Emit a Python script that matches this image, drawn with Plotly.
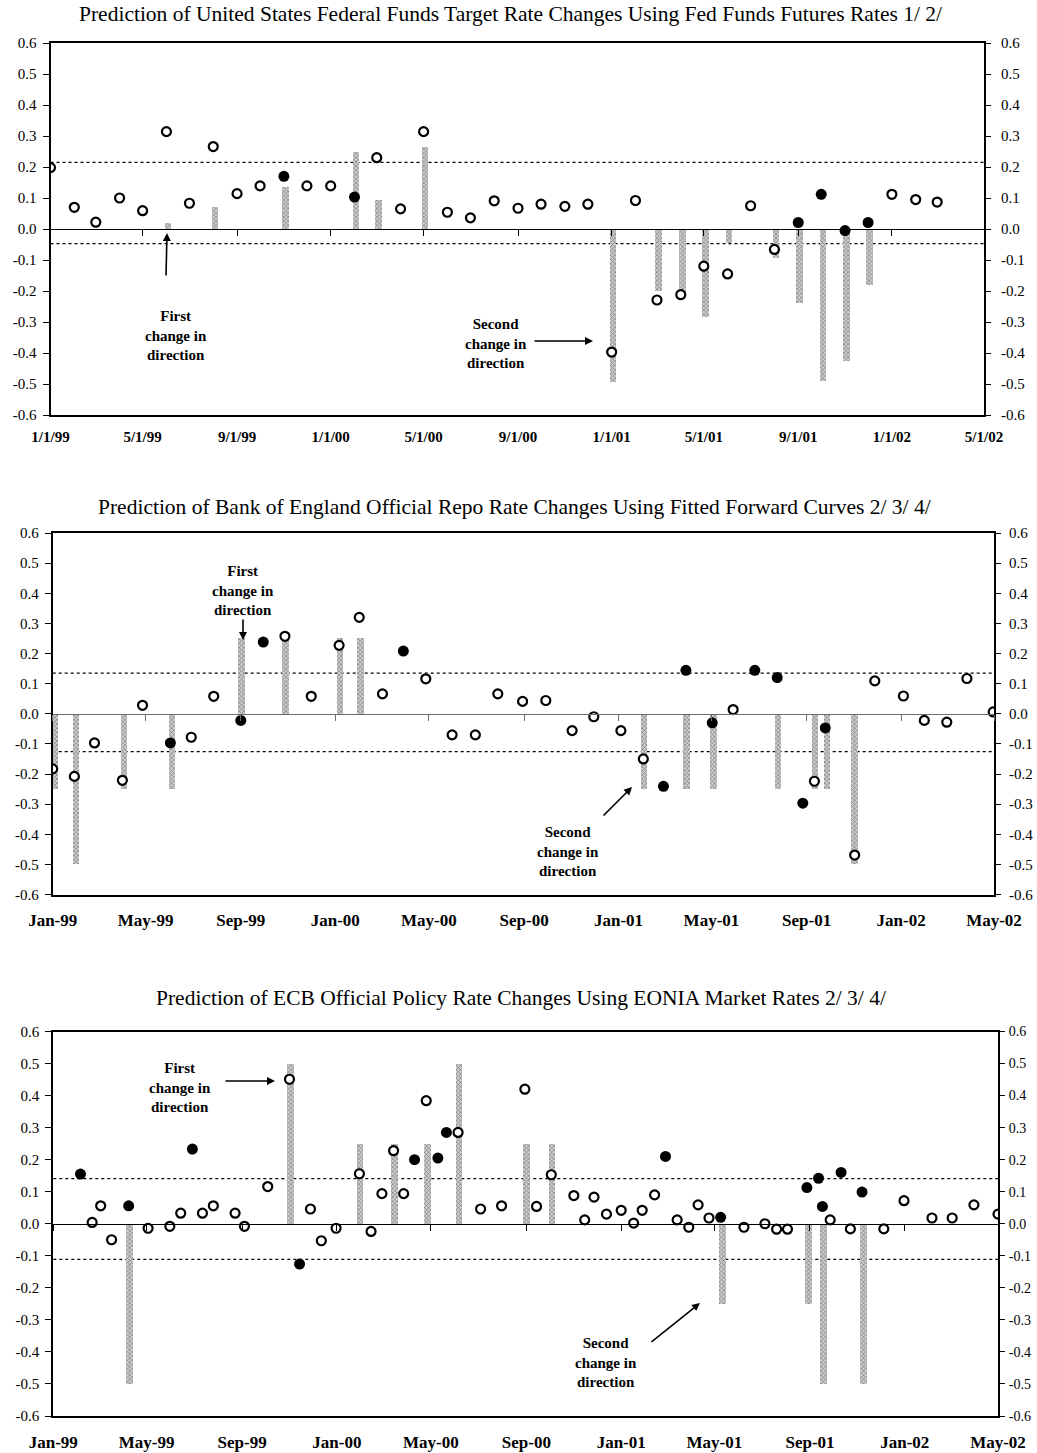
import plotly.graph_objects as go

W, H = 1037, 1453

# ---------------- data ----------------
titles = [
    "Prediction of United States Federal Funds Target Rate Changes Using Fed Funds Futures Rates 1/ 2/",
    "Prediction of Bank of England Official Repo Rate Changes Using Fitted Forward Curves 2/ 3/ 4/",
    "Prediction of ECB Official Policy Rate Changes Using EONIA Market Rates 2/ 3/ 4/",
]

us_dates = [
    "1999-01-01", "1999-02-01", "1999-03-01", "1999-04-01", "1999-05-01", "1999-06-01",
    "1999-07-01", "1999-08-01", "1999-09-01", "1999-10-01", "1999-11-01", "1999-12-01",
    "2000-01-01", "2000-02-01", "2000-03-01", "2000-04-01", "2000-05-01", "2000-06-01",
    "2000-07-01", "2000-08-01", "2000-09-01", "2000-10-01", "2000-11-01", "2000-12-01",
    "2001-01-01", "2001-02-01", "2001-03-01", "2001-04-01", "2001-05-01", "2001-06-01",
    "2001-07-01", "2001-08-01", "2001-09-01", "2001-10-01", "2001-11-01", "2001-12-01",
    "2002-01-01", "2002-02-01", "2002-03-01",
]
us_values = [
    0.198, 0.070, 0.022, 0.100, 0.059, 0.314, 0.083, 0.266, 0.114, 0.139, 0.170, 0.139,
    0.139, 0.103, 0.230, 0.065, 0.314, 0.054, 0.036, 0.091, 0.067, 0.080, 0.073, 0.080,
    -0.397, 0.092, -0.229, -0.212, -0.120, -0.145, 0.075, -0.066, 0.021, 0.112, -0.005, 0.021,
    0.112, 0.095, 0.087,
]
us_kind = [
    "o", "o", "o", "o", "o", "o", "o", "o", "o", "o", "f", "o",
    "o", "f", "o", "o", "o", "o", "o", "o", "o", "o", "o", "o",
    "o", "o", "o", "o", "o", "o", "o", "o", "f", "f", "f", "f",
    "o", "o", "o",
]
us_bar_dates = [
    "1999-06-03", "1999-08-03", "1999-11-03", "2000-02-03", "2000-03-03", "2000-05-03",
    "2001-01-03", "2001-03-03", "2001-04-03", "2001-05-03", "2001-06-03", "2001-08-03",
    "2001-09-03", "2001-10-03", "2001-11-03", "2001-12-03",
]
us_bar_values = [
    0.02, 0.07, 0.135, 0.25, 0.095, 0.265,
    -0.495, -0.20, -0.21, -0.285, -0.045, -0.095,
    -0.24, -0.49, -0.425, -0.18,
]
us_thresholds = [0.215, -0.047]

uk_dates = [
    "1999-01-01", "1999-01-29", "1999-02-24", "1999-04-01", "1999-04-27", "1999-06-02",
    "1999-06-29", "1999-07-28", "1999-09-01", "1999-09-30", "1999-10-28", "1999-12-01",
    "2000-01-06", "2000-02-01", "2000-03-02", "2000-03-29", "2000-04-27", "2000-05-31",
    "2000-06-30", "2000-07-29", "2000-08-30", "2000-09-29", "2000-11-02", "2000-11-30",
    "2001-01-04", "2001-02-02", "2001-02-28", "2001-03-29", "2001-05-02", "2001-05-29",
    "2001-06-26", "2001-07-25", "2001-08-27", "2001-09-11", "2001-09-25", "2001-11-02",
    "2001-11-28", "2002-01-04", "2002-01-31", "2002-03-01", "2002-03-27", "2002-04-30",
]
uk_values = [
    -0.183, -0.208, -0.097, -0.221, 0.028, -0.097, -0.078, 0.058, -0.022, 0.238, 0.257, 0.058,
    0.227, 0.320, 0.066, 0.208, 0.116, -0.070, -0.070, 0.066, 0.041, 0.044, -0.056, -0.010,
    -0.056, -0.150, -0.241, 0.144, -0.030, 0.014, 0.144, 0.120, -0.297, -0.224, -0.047, -0.469,
    0.109, 0.059, -0.022, -0.028, 0.117, 0.006,
]
uk_kind = [
    "o", "o", "o", "o", "o", "f", "o", "o", "f", "f", "o", "o",
    "o", "o", "o", "f", "o", "o", "o", "o", "o", "o", "o", "o",
    "o", "o", "f", "f", "f", "o", "f", "f", "f", "o", "f", "o",
    "o", "o", "o", "o", "o", "o",
]
uk_bar_dates = [
    "1999-01-03", "1999-01-31", "1999-04-03", "1999-06-04", "1999-09-02", "1999-10-29",
    "2000-01-07", "2000-02-03", "2001-02-03", "2001-03-30", "2001-05-04", "2001-07-26",
    "2001-09-12", "2001-09-27", "2001-11-02",
]
uk_bar_values = [
    -0.25, -0.5, -0.25, -0.25, 0.25, 0.25, 0.25, 0.25,
    -0.25, -0.25, -0.25, -0.25, -0.25, -0.25, -0.5,
]
uk_thresholds = [0.135, -0.126]

ecb_dates = [
    "1999-02-05", "1999-02-20", "1999-03-03", "1999-03-17", "1999-04-08", "1999-05-03",
    "1999-05-31", "1999-06-14", "1999-06-29", "1999-07-12", "1999-07-26", "1999-08-23",
    "1999-09-04", "1999-10-04", "1999-11-01", "1999-11-14", "1999-11-28", "1999-12-12",
    "1999-12-31",
    "2000-01-30", "2000-02-14", "2000-02-28", "2000-03-14", "2000-03-27", "2000-04-10",
    "2000-04-25", "2000-05-10", "2000-05-21", "2000-06-05", "2000-07-04", "2000-07-31",
    "2000-08-30", "2000-09-14", "2000-10-03", "2000-11-01", "2000-11-15", "2000-11-27",
    "2000-12-13",
    "2001-01-01", "2001-01-17", "2001-01-28", "2001-02-13", "2001-02-27", "2001-03-14",
    "2001-03-29", "2001-04-10", "2001-04-24", "2001-05-09", "2001-06-08", "2001-07-05",
    "2001-07-20", "2001-08-03", "2001-08-28", "2001-09-12", "2001-09-17", "2001-09-27",
    "2001-10-11", "2001-10-23", "2001-11-07", "2001-12-05", "2001-12-31",
    "2002-02-05", "2002-03-03", "2002-03-31", "2002-05-01",
]
ecb_values = [
    0.155, 0.004, 0.056, -0.050, 0.056, -0.014, -0.008, 0.033, 0.233, 0.033, 0.056, 0.033,
    -0.008, 0.116, 0.451, -0.126, 0.046, -0.053, -0.014,
    0.156, -0.024, 0.094, 0.228, 0.094, 0.200, 0.384, 0.205, 0.285, 0.285, 0.046, 0.056,
    0.420, 0.054, 0.153, 0.088, 0.012, 0.083, 0.030,
    0.042, 0.002, 0.042, 0.090, 0.210, 0.012, -0.011, 0.059, 0.018, 0.020, -0.011, 0.000,
    -0.017, -0.017, 0.113, 0.142, 0.054, 0.012, 0.160, -0.016, 0.099, -0.016, 0.072,
    0.018, 0.018, 0.059, 0.030,
]
ecb_kind = [
    "f", "o", "o", "o", "f", "o", "o", "o", "f", "o", "o", "o",
    "o", "o", "o", "f", "o", "o", "o",
    "o", "o", "o", "o", "o", "f", "o", "f", "f", "o", "o", "o",
    "o", "o", "o", "o", "o", "o", "o",
    "o", "o", "o", "o", "f", "o", "o", "o", "o", "f", "o", "o",
    "o", "o", "f", "f", "f", "o", "f", "o", "f", "o", "o",
    "o", "o", "o", "o",
]
ecb_bar_dates = [
    "1999-04-09", "1999-11-02", "2000-01-31", "2000-03-15", "2000-04-27", "2000-06-06",
    "2000-09-01", "2000-10-04", "2001-05-11", "2001-08-30", "2001-09-18", "2001-11-09",
]
ecb_bar_values = [-0.5, 0.5, 0.25, 0.25, 0.25, 0.5, 0.25, 0.25, -0.25, -0.25, -0.5, -0.5]
ecb_thresholds = [0.141, -0.111]

y_tick_values = [0.6, 0.5, 0.4, 0.3, 0.2, 0.1, 0.0, -0.1, -0.2, -0.3, -0.4, -0.5, -0.6]
y_tick_labels = [f"{v:.1f}" for v in y_tick_values]
x_range = ["1999-01-01", "2002-05-01"]

# ---------------- layout helpers ----------------
SERIF = "Liberation Serif, Times New Roman, serif"


def px(x):
    return x / W


def py(y):
    return 1 - y / H


panels = [
    dict(dates=us_dates, values=us_values, kind=us_kind, bd=us_bar_dates, bv=us_bar_values,
         thr=us_thresholds, box=(50.5, 984, 43, 415), fmt="%-m/%-d/%y", zc="#000000",
         xlab_gap=7, xfs=15, rstand=7, rfs=15, title=titles[0], tpos=(510, 14)),
    dict(dates=uk_dates, values=uk_values, kind=uk_kind, bd=uk_bar_dates, bv=uk_bar_values,
         thr=uk_thresholds, box=(52.7, 994, 533, 894.5), fmt="%b-%y", zc="#6e6e6e",
         xlab_gap=9, xfs=17, rstand=5, rfs=15, title=titles[1], tpos=(514, 507)),
    dict(dates=ecb_dates, values=ecb_values, kind=ecb_kind, bd=ecb_bar_dates, bv=ecb_bar_values,
         thr=ecb_thresholds, box=(53.3, 998, 1031.5, 1416), fmt="%b-%y", zc="#000000",
         xlab_gap=10, xfs=17, rstand=1, rfs=14, title=titles[2], tpos=(521, 998)),
]

fig = go.Figure()
layout = {}
shapes = []
annotations = []

BAR_WIDTH_MS = 8.5 * 86400000

for i, p in enumerate(panels, start=1):
    xb = f"x{i}" if i > 1 else "x"
    yl = f"y{i}" if i > 1 else "y"
    xz = f"x{i + 3}"
    yr = f"y{i + 3}"
    x0, x1, y0, y1 = p["box"]
    xdom = [px(x0), px(x1)]
    ydom = [py(y1), py(y0)]

    # bars (actual policy changes)
    fig.add_trace(go.Bar(
        x=p["bd"], y=p["bv"], width=BAR_WIDTH_MS, xaxis=xb, yaxis=yl,
        marker=dict(color="#c4c4c4", line=dict(width=0),
                    pattern=dict(shape="x", fgcolor="#7d7d7d", bgcolor="#cdcdcd",
                                 size=3, solidity=0.4, fillmode="replace")),
        showlegend=False, hoverinfo="skip"))

    od = [d for d, k in zip(p["dates"], p["kind"]) if k == "o"]
    ov = [v for v, k in zip(p["values"], p["kind"]) if k == "o"]
    fd = [d for d, k in zip(p["dates"], p["kind"]) if k == "f"]
    fv = [v for v, k in zip(p["values"], p["kind"]) if k == "f"]

    fig.add_trace(go.Scatter(
        x=od, y=ov, mode="markers", xaxis=xb, yaxis=yl,
        marker=dict(symbol="circle", size=9, color="white", line=dict(color="black", width=2.2)),
        showlegend=False))
    fig.add_trace(go.Scatter(
        x=fd, y=fv, mode="markers", xaxis=xb, yaxis=yl,
        marker=dict(symbol="circle", size=11, color="black", line=dict(color="black", width=0)),
        showlegend=False))

    # helper traces binding the zero-line axis and right axis
    fig.add_trace(go.Scatter(x=[x_range[0]], y=[0], mode="markers", xaxis=xz, yaxis=yl,
                             marker=dict(size=1, color="rgba(0,0,0,0)"), showlegend=False,
                             hoverinfo="skip"))
    fig.add_trace(go.Scatter(x=[x_range[0]], y=[0], mode="markers", xaxis=xb, yaxis=yr,
                             marker=dict(size=1, color="rgba(0,0,0,0)"), showlegend=False,
                             hoverinfo="skip"))

    kx = "xaxis" if i == 1 else f"xaxis{i}"
    ky = "yaxis" if i == 1 else f"yaxis{i}"
    layout[kx] = dict(
        domain=xdom, anchor=yl, type="date", range=x_range, automargin=False,
        tick0="1999-01-01", dtick="M4", tickformat=p["fmt"],
        showline=True, linecolor="black", linewidth=2, mirror=True,
        ticks="outside", ticklen=p["xlab_gap"], tickcolor="rgba(0,0,0,0)",
        showgrid=False, zeroline=False,
        tickfont=dict(family=SERIF, size=p["xfs"], color="black", weight="bold"),
    )
    layout[ky] = dict(
        domain=ydom, anchor=xb, range=[-0.6, 0.6], automargin=False,
        tickmode="array", tickvals=y_tick_values, ticktext=y_tick_labels,
        showline=True, linecolor="black", linewidth=2, mirror=False,
        ticks="outside", ticklen=6, tickwidth=1, tickcolor="black",
        ticklabelstandoff=3,
        showgrid=False, zeroline=False,
        tickfont=dict(family=SERIF, size=15, color="black"),
    )
    # zero line with tick marks
    layout[f"xaxis{i + 3}"] = dict(
        overlaying=xb, anchor="free", position=(ydom[0] + ydom[1]) / 2, automargin=False,
        type="date", range=x_range, tick0="1999-01-01", dtick="M4",
        showline=True, linecolor=p["zc"], linewidth=1,
        ticks="outside", ticklen=6, tickwidth=1, tickcolor=p["zc"],
        showticklabels=False, showgrid=False, zeroline=False,
    )
    # right axis
    layout[f"yaxis{i + 3}"] = dict(
        overlaying=yl, side="right", anchor=xb, range=[-0.6, 0.6], automargin=False,
        tickmode="array", tickvals=y_tick_values, ticktext=y_tick_labels,
        showline=True, linecolor="black", linewidth=2,
        ticks="outside", ticklen=5, tickwidth=1, tickcolor="black",
        ticklabelstandoff=p["rstand"],
        showgrid=False, zeroline=False,
        tickfont=dict(family=SERIF, size=p["rfs"], color="black"),
    )

    for t in p["thr"]:
        shapes.append(dict(type="line", xref=f"{xb} domain", yref=yl, x0=0, x1=1, y0=t, y1=t,
                           line=dict(color="black", width=1.3, dash="dot"), layer="below"))

    annotations.append(dict(text=p["title"], xref="paper", yref="paper",
                            x=px(p["tpos"][0]), y=py(p["tpos"][1]),
                            xanchor="center", yanchor="middle", showarrow=False,
                            font=dict(family=SERIF, size=21.5, color="black")))

# callout texts and arrows (pixel layout positions)
callout = "First<br>change in<br>direction"
callout2 = "Second<br>change in<br>direction"
texts = [
    (callout, 176, 335),
    (callout2, 496, 343),
    (callout, 243, 591),
    (callout2, 568, 851),
    (callout, 180, 1087),
    (callout2, 606, 1362),
]
for t, cx, cy in texts:
    annotations.append(dict(text=t, xref="paper", yref="paper", x=px(cx), y=py(cy),
                            xanchor="center", yanchor="middle", showarrow=False, align="center",
                            font=dict(family=SERIF, size=15, color="black", weight="bold")))

arrows = [  # (tail_x, tail_y, head_x, head_y)
    (166, 277, 167, 233),
    (533, 341, 593, 341),
    (243, 618, 243, 640),
    (602, 817, 632, 787),
    (224, 1081, 275, 1081),
    (650, 1343, 700, 1303),
]
for tx, ty, hx, hy in arrows:
    annotations.append(dict(text="", xref="paper", yref="paper", x=px(hx), y=py(hy),
                            ax=tx - hx, ay=ty - hy, axref="pixel", ayref="pixel",
                            showarrow=True, arrowhead=2, arrowsize=1, arrowwidth=1.6,
                            arrowcolor="black", standoff=0))

fig.update_layout(
    template="none",
    width=W, height=H, margin=dict(l=0, r=0, t=0, b=0, pad=0),
    paper_bgcolor="white", plot_bgcolor="white",
    barmode="overlay", bargap=0, showlegend=False,
    shapes=shapes, annotations=annotations,
    font=dict(family=SERIF, color="black"),
    hovermode=False,
    **layout,
)

fig.write_html(
    "out.html",
    config={"displayModeBar": False, "staticPlot": True},
    post_script="document.body.style.margin='0px';document.body.style.padding='0px';"
                "document.body.style.overflow='hidden';",
)
